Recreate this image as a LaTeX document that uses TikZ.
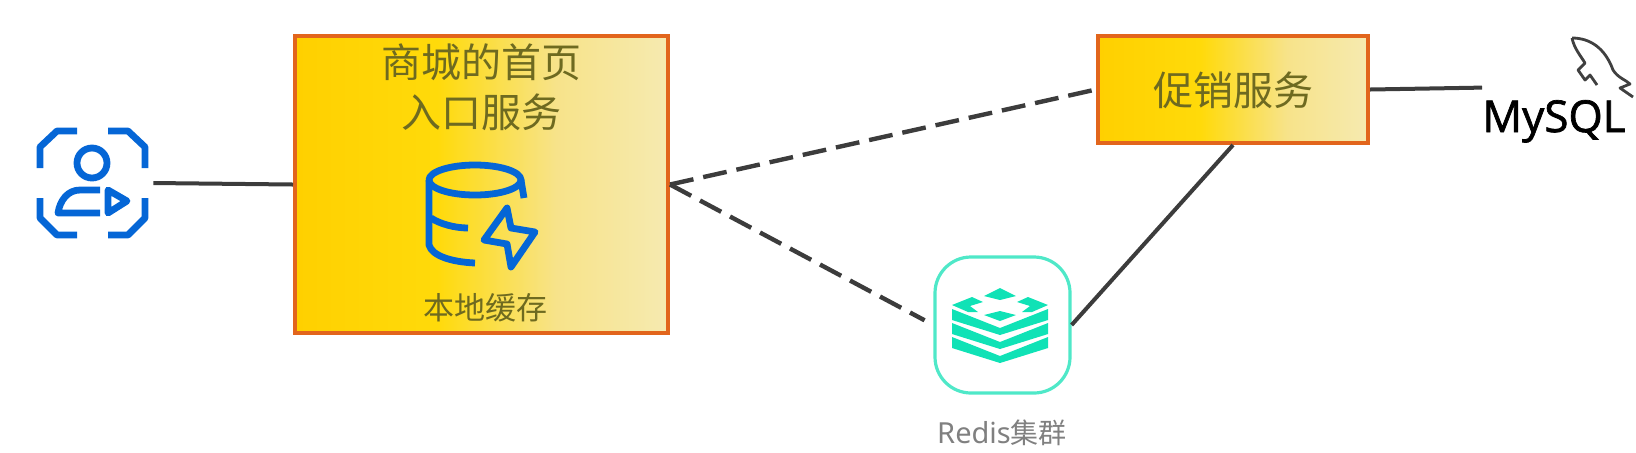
\documentclass[tikz,border=0pt]{standalone}
\usepackage{fontspec}
\setmainfont{Noto Sans}
\newfontfamily\cjkfont{Noto Sans CJK SC}
\newfontfamily\logofont[FakeBold=1.6]{Open Sans}
\definecolor{boxedge}{HTML}{E2651C}
\definecolor{goldleft}{HTML}{FFD000}
\definecolor{goldmid}{HTML}{FFDA0A}
\definecolor{goldpale}{HTML}{F7E38A}
\definecolor{goldright}{HTML}{F6EAB0}
\definecolor{boxtext}{HTML}{6E6A20}
\definecolor{iconblue}{HTML}{0566D6}
\definecolor{redisgreen}{HTML}{10E2B6}
\definecolor{redisedge}{HTML}{4FE8C8}
\definecolor{linkgrey}{HTML}{3C3C3C}
\pgfdeclarehorizontalshading{goldfade}{100bp}{color(0bp)=(goldleft); color(25bp)=(goldleft); color(44bp)=(goldmid); color(60bp)=(goldpale); color(75bp)=(goldright); color(100bp)=(goldright)}
\tikzset{
	servicebox/.style={draw=boxedge,line width=2pt,shading=goldfade,inner sep=0pt},
	boxlabel/.style={text=boxtext,font=\cjkfont\fontsize{20}{25}\selectfont,align=center,inner sep=0pt},
	solidlink/.style={draw=linkgrey,line width=2pt},
	dashlink/.style={draw=linkgrey,line width=2.2pt,dash pattern=on 12pt off 5pt},
	iconline/.style={draw=iconblue,line width=3.4pt,line join=round},
	redisband/.style={fill=redisgreen,draw=none}
}
\begin{document}
\begin{tikzpicture}[x=0.5pt,y=-0.5pt]
	\useasboundingbox (0,0) rectangle (1636,452);

	% boxes
	\node[servicebox,minimum width=186.5pt,minimum height=148.5pt] (home) at (481.5,184.5) {};
	\node[servicebox,minimum width=135pt,minimum height=53.5pt] (promo) at (1233,89.5) {};
	\node[draw=redisedge,line width=1.6pt,rounded corners=18pt,minimum width=67.5pt,minimum height=68pt,inner sep=0pt] (redis) at (1002.5,325) {};
	\node[minimum width=61pt,minimum height=55pt,inner sep=0pt] (user) at (92,183) {};

	% labels
	\node[boxlabel] (hometitle) at (481,87) {商城的首页\\入口服务};
	\node[boxlabel,font=\cjkfont\fontsize{15.5}{18}\selectfont] (cachelabel) at (485,308) {本地缓存};
	\node[boxlabel] (promolabel) at (1233,90) {促销服务};
	\node[text=gray,font=\fontsize{14.5}{18}\selectfont,inner sep=0pt] (redislabel) at (1002,433) {Redis{\cjkfont\fontsize{14}{18}\selectfont 集群}};
	\node[anchor=base west,inner sep=0pt,text height=22pt,text=black,font=\logofont\fontsize{22}{26}\selectfont] (mysql) at (1482,132) {MySQL};

	% links
	\draw[solidlink] (user.east) -- (home.west);
	\draw[dashlink] (home.east) -- (promo.west);
	\draw[dashlink,shorten >=5pt] (home.east) -- (redis.west);
	\draw[solidlink] (redis.east) -- (promo.south);
	\draw[solidlink] (promo.east) -- (mysql.north west);

	% user icon
	\draw[iconline] (40,168) -- (40,147) -- (57,131) -- (77,131);
	\draw[iconline] (108,131) -- (128,131) -- (145,147) -- (145,168);
	\draw[iconline] (40,198) -- (40,218) -- (57,235) -- (77,235);
	\draw[iconline] (108,235) -- (128,235) -- (145,218) -- (145,198);
	\draw[iconline] (92,163) circle (15);
	\draw[iconline] (100,190) -- (80,190) .. controls (68,190) and (60,200) .. (58,213) -- (100,213);
	\draw[iconline] (108,190) -- (108,213) -- (127,201) -- cycle;

	% cache icon
	\draw[iconline] (475,180) ellipse (46 and 15);
	\draw[iconline] (521,180) -- (524,198);
	\draw[iconline] (429,180) -- (429,245) .. controls (432,256) and (452,262) .. (475,263);
	\draw[iconline] (431,218) .. controls (440,224) and (455,228) .. (468,228);
	\draw[iconline] (507,208) -- (484,240) -- (507,244) -- (511,267) -- (535,232) -- (511,228) -- cycle;

	% redis icon
	\foreach \y in {0,14,28} {
		\fill[redisband] (952,309+\y) -- (1000,328+\y) -- (1048,309+\y) -- (1048,320+\y) -- (1000,335+\y) -- (952,320+\y) -- cycle;
	}
	\fill[redisband] (984,296) -- (1000,288) -- (1016,296) -- (1000,300) -- cycle;
	\fill[redisband] (984,315) -- (1000,311) -- (1016,315) -- (1000,321) -- cycle;
	\fill[redisband] (952,305) -- (972,297) -- (983,302) -- (970,306) -- (978,312) -- (968,312) -- cycle;
	\fill[redisband] (1048,305) -- (1028,297) -- (1017,302) -- (1030,306) -- (1022,312) -- (1032,312) -- cycle;

	% dolphin
	\draw[black!75,line width=1.4pt,line join=round] (1572,38) .. controls (1590,38) and (1605,48) .. (1613,70) .. controls (1618,78) and (1626,80) .. (1630,84) -- (1620,88) -- (1633,97);
	\draw[black!75,line width=1.4pt,line join=round] (1572,38) .. controls (1574,48) and (1580,55) .. (1585,63) -- (1578,70) -- (1585,80) -- (1590,75) -- (1597,85);
\end{tikzpicture}
\end{document}
